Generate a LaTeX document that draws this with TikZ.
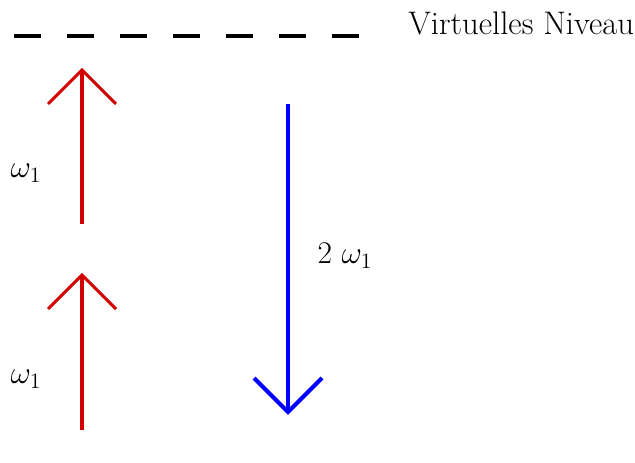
\documentclass[tikz,border=0pt]{standalone}
\usepackage{fontspec}
\usepackage{graphicx}
\usepackage{tikz}
\definecolor{arrred}{RGB}{210,0,0}
\definecolor{arrblue}{RGB}{0,0,255}
\newcommand{\biglbl}[1]{\scalebox{1.14}{\fontsize{20.74}{25}\selectfont #1}}
\tikzset{
  redline/.style={draw=arrred, line width=2.3pt, line cap=butt, line join=miter},
  blueline/.style={draw=arrblue, line width=3pt, line cap=butt, line join=miter},
  levelline/.style={draw=black, line width=2.5pt, dash pattern=on 20.25pt off 19.5pt},
  mathlbl/.style={inner sep=0pt},
  textlbl/.style={inner sep=0pt, font=\fontsize{24.5}{29}\selectfont}
}
\begin{document}
\begin{tikzpicture}[x=0.75pt,y=-0.75pt]
\useasboundingbox (0,0) rectangle (635,463);
% virtual level
\coordinate (lvlA) at (14,36);
\coordinate (lvlB) at (359,36);
\draw[levelline] (lvlA) -- (lvlB);
\node[textlbl, anchor=base west] (virt) at (408,35) {Virtuelles Niveau};
% upper red arrow
\coordinate (r1s) at (82,224);
\coordinate (r1t) at (82,70);
\coordinate (r1l) at (48,104);
\coordinate (r1r) at (116,104);
\draw[redline] (r1s) -- (r1t);
\draw[redline] (r1l) -- (r1t) -- (r1r);
\node[mathlbl] (w1a) at (26,173) {\biglbl{$\omega_1$}};
% lower red arrow
\coordinate (r2s) at (82,430);
\coordinate (r2t) at (82,275);
\coordinate (r2l) at (48,309);
\coordinate (r2r) at (116,309);
\draw[redline] (r2s) -- (r2t);
\draw[redline] (r2l) -- (r2t) -- (r2r);
\node[mathlbl] (w1b) at (26,379) {\biglbl{$\omega_1$}};
% blue arrow
\coordinate (bs) at (288,104);
\coordinate (bt) at (288,412);
\coordinate (bl) at (254,378);
\coordinate (br) at (322,378);
\draw[blueline] (bs) -- (bt);
\draw[blueline] (bl) -- (bt) -- (br);
\node[mathlbl] (w2) at (345,256) {\biglbl{$2\ \omega_1$}};
\end{tikzpicture}
\end{document}
